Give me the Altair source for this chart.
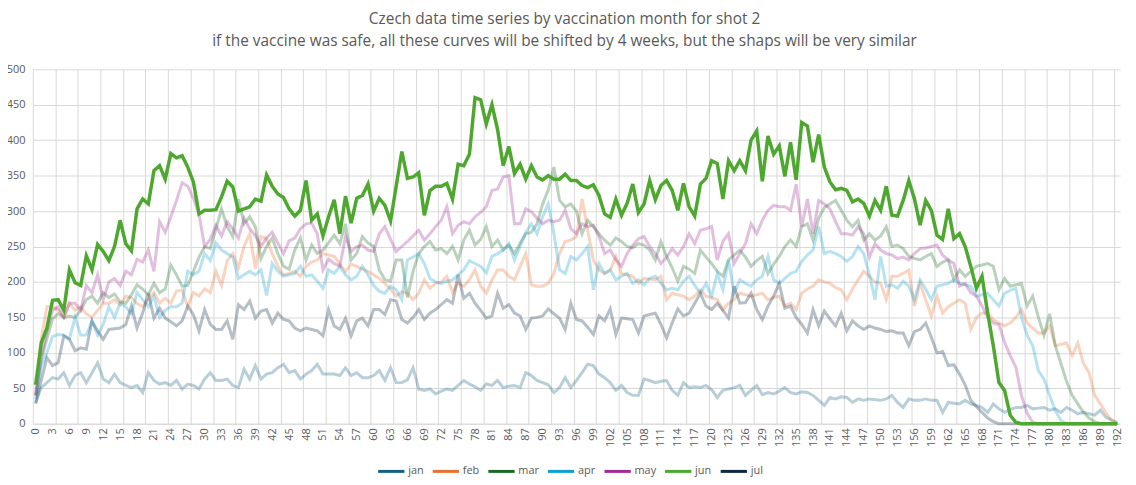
import altair as alt
import pandas as pd

days = list(range(193))

jan = [30,51,58,65,63,72,54,68,72,58,
       72,86,63,58,70,58,54,51,54,44,
       72,61,56,58,54,61,49,56,54,49,
       63,72,61,61,63,54,51,77,63,82,
       63,70,72,79,84,72,75,63,70,75,
       84,70,70,70,68,79,68,72,65,65,
       68,75,61,79,58,58,62,79,49,47,
       49,42,46,49,47,54,61,56,52,47,
       56,54,61,51,53,54,51,72,68,61,
       58,55,44,51,65,51,61,72,84,82,
       70,65,58,47,54,44,40,40,63,61,
       58,60,61,47,40,58,51,52,51,54,
       48,37,47,49,51,54,40,47,54,41,
       44,42,46,51,44,42,45,44,40,33,
       26,37,35,38,37,30,35,33,35,34,
       33,35,40,30,23,35,33,33,35,33,
       33,16,30,29,28,33,28,26,23,16,
       28,21,16,20,23,23,26,21,22,23,
       19,21,16,23,19,14,16,14,12,19,
       9,5,2]

feb = [40,120,165,165,160,150,170,160,165,155,
       150,160,170,170,175,168,180,178,170,165,
       175,185,170,177,170,187,189,165,185,180,
       190,185,215,195,230,240,220,250,268,219,
       264,261,240,222,210,212,215,208,222,228,
       231,240,238,236,225,215,225,222,218,215,
       210,205,198,190,180,186,184,175,184,203,
       191,198,200,208,185,198,194,203,217,194,
       184,203,217,217,208,203,222,240,196,194,
       194,198,212,240,257,259,264,317,273,231,
       217,212,217,236,212,210,208,198,205,204,
       203,208,175,184,182,180,175,180,189,180,
       178,175,161,170,175,184,182,180,182,184,
       175,178,180,166,170,161,184,190,194,203,
       200,198,192,189,175,190,203,215,208,200,
       198,175,208,208,212,217,166,198,175,152,
       180,156,165,170,175,170,133,150,156,156,
       147,142,138,142,150,161,142,135,128,128,
       138,110,112,114,96,114,85,72,40,28,
       15,5,0]

mar = [40,90,120,148,155,150,152,150,160,175,
       180,170,185,178,183,172,170,182,196,190,
       182,198,185,190,224,210,194,195,215,235,
       250,247,275,303,278,264,317,282,292,278,
       233,250,262,240,222,218,245,262,231,252,
       240,245,255,266,254,282,231,240,264,255,
       250,217,203,201,231,231,178,215,240,250,
       257,245,247,240,250,231,259,273,252,260,
       278,250,259,245,252,240,255,268,270,282,
       310,330,362,315,306,310,300,268,287,278,
       268,259,252,262,257,250,248,254,252,245,
       231,257,236,220,201,222,218,212,245,235,
       226,215,208,231,238,245,235,222,230,236,
       212,225,236,250,259,250,278,282,259,290,
       305,310,315,301,287,278,287,259,268,259,
       265,278,250,252,247,236,233,231,236,240,
       222,228,231,203,217,208,215,222,224,226,
       222,189,205,194,196,198,166,180,150,125,
       155,110,85,60,40,28,16,8,3,0,
       0,0,0]

apr = [35,80,100,123,126,125,120,150,125,125,
       145,125,140,165,150,170,165,155,185,175,
       165,180,150,160,165,165,170,215,210,215,
       240,230,255,245,240,235,205,210,215,210,
       217,181,226,215,208,210,212,222,208,210,
       201,191,217,212,222,210,203,208,222,210,
       195,187,184,194,189,175,231,235,240,226,
       205,200,198,201,203,210,217,230,226,222,
       213,236,240,245,254,231,250,270,282,268,
       292,310,268,217,212,236,231,240,250,189,
       226,212,217,203,208,212,198,203,196,205,
       208,198,189,191,189,201,208,195,184,198,
       180,212,189,231,184,203,198,194,203,208,
       236,203,198,205,212,215,229,238,245,278,
       240,243,240,236,229,236,250,240,210,175,
       236,194,196,191,201,194,175,203,190,175,
       194,196,198,203,198,196,194,180,182,184,
       175,166,184,188,191,150,125,110,75,63,
       40,18,5,0,0,0,0,0,0,0,
       0,0,0]

may = [40,95,130,160,165,150,170,170,160,195,
       185,210,175,200,205,195,215,210,232,228,
       245,215,285,270,292,315,340,335,318,295,
       250,260,280,265,285,275,262,290,275,265,
       250,262,270,255,240,258,262,275,282,283,
       268,217,232,226,222,264,243,250,252,245,
       243,268,278,260,243,250,257,265,273,259,
       268,278,287,306,268,280,285,282,292,298,
       306,329,331,348,350,282,282,303,299,290,
       282,287,285,287,301,275,268,282,278,280,
       264,240,245,231,222,240,252,261,264,250,
       240,226,235,247,238,250,268,254,273,275,
       278,231,257,268,226,240,254,282,268,287,
       301,308,306,306,301,338,278,317,268,315,
       310,303,285,268,268,266,278,268,235,254,
       245,240,238,233,235,231,240,247,248,250,
       252,238,231,226,194,198,185,180,166,150,
       142,140,115,96,80,40,15,2,0,0,
       0,0,0,0,0,0,0,0,0,0,
       0,0,0]

jun = [55,114,135,174,175,160,217,199,195,237,
       217,253,243,230,250,287,254,244,303,317,
       310,357,364,345,381,375,378,362,341,296,
       301,301,302,320,342,334,300,303,306,317,
       314,351,335,324,319,303,293,301,343,287,
       296,265,292,316,268,321,283,318,322,338,
       300,318,308,286,335,384,346,348,354,294,
       329,335,335,339,317,366,364,380,460,457,
       423,450,415,364,391,353,366,345,364,348,
       344,350,345,345,352,343,343,336,333,337,
       322,296,291,317,294,311,338,298,310,343,
       316,336,343,329,301,339,306,293,338,346,
       371,367,317,371,357,371,357,400,413,342,
       406,380,392,349,397,344,425,420,369,408,
       362,341,330,332,329,313,317,311,293,315,
       301,335,294,293,315,343,317,280,315,301,
       266,260,303,261,268,250,222,191,208,156,
       110,58,47,12,2,0,0,0,0,0,
       0,0,0,0,0,0,0,0,0,0,
       0,0,0]

jul = [28,61,93,82,86,124,119,103,107,105,
       145,131,119,133,134,135,140,166,135,156,
       184,149,163,149,144,138,145,166,154,131,
       161,140,133,133,145,119,168,161,173,149,
       159,161,142,156,147,145,135,131,135,133,
       131,124,161,138,133,149,124,145,149,138,
       161,161,154,175,173,147,142,150,161,147,
       156,161,168,175,170,210,177,184,170,160,
       149,152,184,163,168,156,152,133,149,150,
       152,162,155,149,133,170,147,145,136,126,
       152,145,162,126,149,148,147,128,152,154,
       156,140,121,142,162,152,156,170,184,166,
       161,170,160,149,194,170,171,184,161,147,
       166,180,198,163,166,150,140,128,161,138,
       159,148,138,156,131,145,138,133,138,135,
       133,130,131,128,128,110,130,133,142,122,
       100,102,82,83,70,55,33,24,16,8,
       3,0,0,0,0,0,0,0,0,0,
       0,0,0,0,0,0,0,0,0,0,
       0,0,0]

months = ["jan", "feb", "mar", "apr", "may", "jun", "jul"]
month_colors = ["#156082", "#E97132", "#196B24", "#0F9ED5", "#A02B93", "#4EA72E", "#0E2841"]
highlight = "jun"

x_label_values = list(range(0, 193, 3))
x_grid_values = [k * 4 - 0.5 for k in range(49)]
y_values = list(range(0, 501, 50))

title_lines = [
    "Czech data time series by vaccination month for shot 2",
    "if the vaccine was safe, all these curves will be shifted by 4 weeks, but the shaps will be very similar",
]

rows = []
for name, vals in zip(months, [jan, feb, mar, apr, may, jun, jul]):
    assert len(vals) == 193, (name, len(vals))
    for d, v in zip(days, vals):
        rows.append({"day": d, "count": v, "month": name})
df = pd.DataFrame(rows)

FONT = "Open Sans"
TXT = "#595959"
GRID = "#d9d9d9"

xscale = alt.Scale(domain=[-0.5, 192.5], nice=False, zero=False)
yscale = alt.Scale(domain=[0, 500], nice=False)

yaxis = alt.Axis(values=y_values, grid=True, gridColor=GRID, gridWidth=1, domain=False,
                 ticks=False, labelFontSize=11, labelColor=TXT, labelFont=FONT,
                 labelPadding=8, title=None)

color = alt.Color(
    "month:N",
    scale=alt.Scale(domain=months, range=month_colors),
    sort=months,
    legend=alt.Legend(orient="none", legendX=346, legendY=390, title=None,
                      direction="horizontal",
                      symbolType="stroke", symbolStrokeWidth=3, symbolSize=700,
                      symbolOpacity=1, labelFontSize=11, labelColor=TXT,
                      labelFont=FONT, columnPadding=2, labelOffset=2),
)

faded = alt.Chart(df).transform_filter(
    alt.datum.month != highlight
).mark_line(strokeWidth=3, opacity=0.3).encode(
    x=alt.X("day:Q", scale=xscale,
            axis=alt.Axis(orient="top", values=x_grid_values, grid=True, gridColor=GRID,
                          gridWidth=1, labels=False, ticks=False, domain=False, title=None)),
    y=alt.Y("count:Q", scale=yscale, axis=yaxis),
    color=color,
)

bold = alt.Chart(df).transform_filter(
    alt.datum.month == highlight
).mark_line(strokeWidth=3.5).encode(
    x=alt.X("day:Q", scale=xscale,
            axis=alt.Axis(orient="bottom", values=x_label_values, grid=False, labelAngle=270,
                          domain=True, domainColor=GRID, ticks=False, labelFontSize=11,
                          labelColor=TXT, labelFont=FONT, labelPadding=4, title=None,
                          labelOverlap=False)),
    y=alt.Y("count:Q", scale=yscale, axis=yaxis),
    color=color,
)

chart = alt.layer(faded, bold).resolve_axis(x="independent").properties(
    width=1095,
    height=357,
    autosize=alt.AutoSizeParams(type="none"),
    padding={"left": 25, "top": 60, "right": 8, "bottom": 60},
    title=alt.Title(title_lines, anchor="middle", dx=-12, offset=14, font=FONT,
                    fontSize=15.5, fontWeight="normal", color=TXT, lineHeight=22),
).configure_view(stroke=None)

chart.save("out.html", embed_options={"renderer": "svg", "actions": False})
